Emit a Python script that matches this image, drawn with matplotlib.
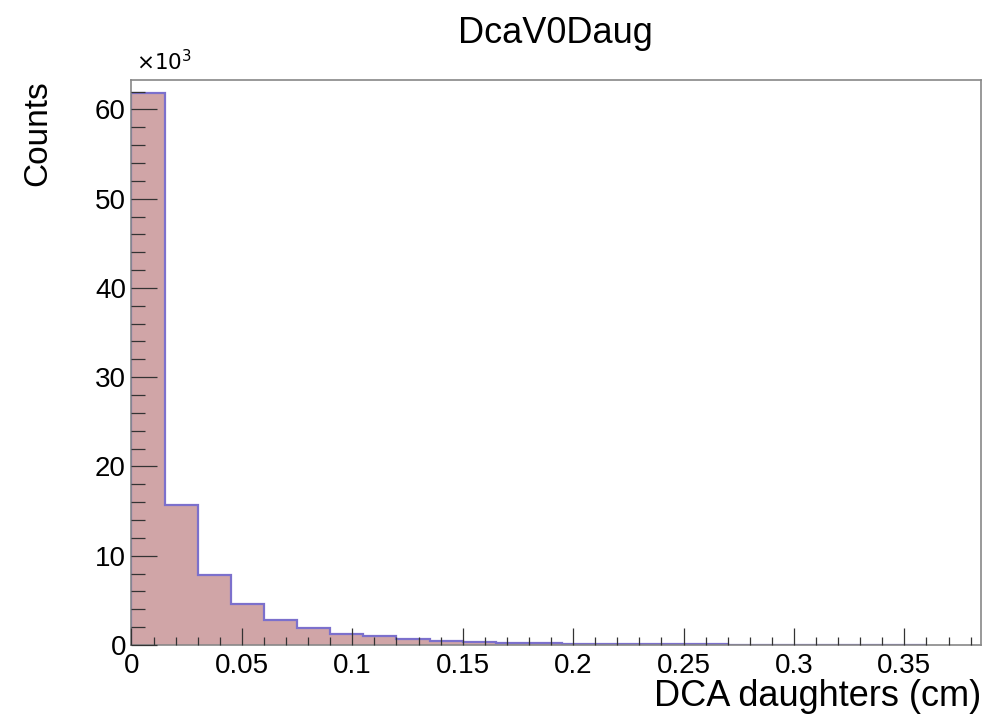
import matplotlib.pyplot as plt
import numpy as np
from matplotlib.ticker import MultipleLocator, FuncFormatter

plt.rcParams["font.family"] = ["Liberation Sans", "DejaVu Sans"]

# DCA between V0 daughters, 24 bins of 0.015 cm, counts in units of 10^3
bin_edges = np.linspace(0.0, 0.36, 25)
counts_k = [61.8, 15.7, 7.8, 4.6, 2.85, 1.9, 1.25, 0.97, 0.67, 0.5, 0.35, 0.26,
            0.2, 0.15, 0.12, 0.1, 0.08, 0.06, 0.05, 0.04, 0.03, 0.03, 0.02, 0.02]

fill_color = "#d0a5a7"
line_color = "#7c70cc"

fig = plt.figure(figsize=(9.84, 7.16), dpi=100)
ax = fig.add_axes([0.1336, 0.0992, 0.8634, 0.7891])

ax.stairs(counts_k, bin_edges, fill=True, color=fill_color, zorder=1)
ax.stairs(counts_k, bin_edges, color=line_color, linewidth=1.6, zorder=2)

ax.set_xlim(0, 0.3847)
ax.set_ylim(0, 63.3)

ax.xaxis.set_major_locator(MultipleLocator(0.05))
ax.xaxis.set_minor_locator(MultipleLocator(0.01))
ax.yaxis.set_major_locator(MultipleLocator(10))
ax.yaxis.set_minor_locator(MultipleLocator(2))
ax.xaxis.set_major_formatter(FuncFormatter(lambda v, p: f"{v:g}"))
ax.yaxis.set_major_formatter(FuncFormatter(lambda v, p: f"{v:g}"))

ax.tick_params(axis="both", which="both", direction="in", colors="#333333",
               labelcolor="black", labelsize=20, width=0.9)
ax.tick_params(axis="y", which="major", length=19, pad=4)
ax.tick_params(axis="y", which="minor", length=10)
ax.tick_params(axis="x", which="major", length=12, pad=6)
ax.tick_params(axis="x", which="minor", length=6)
for spine in ax.spines.values():
    spine.set_color("#888888")
    spine.set_linewidth(1.2)
ax.set_axisbelow(False)

ax.set_xlabel("DCA daughters (cm)", fontsize=26, loc="right", labelpad=0)
ax.set_ylabel("Counts", fontsize=24, loc="top", labelpad=30)
fig.text(0.5640, 0.953, "DcaV0Daug", fontsize=26, ha="center", va="center")
fig.text(0.138, 0.895, r"$\times10^{3}$", fontsize=15.5, ha="left", va="bottom",
         math_fontfamily="dejavusans")

fig.savefig("out.png", dpi=100)
